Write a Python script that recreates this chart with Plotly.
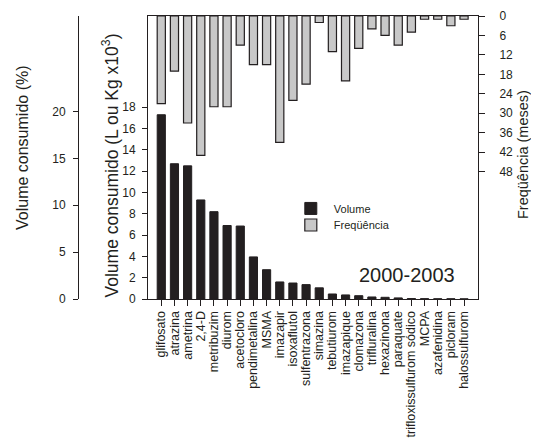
import plotly.graph_objects as go

herbicidas = ["glifosato", "atrazina", "ametrina", "2,4-D", "metribuzim", "diurom",
              "acetocloro", "pendimetalina", "MSMA", "imazapir", "isoxaflutol",
              "sulfentrazona", "simazina", "tebutiurom", "imazapique", "clomazona",
              "trifluralina", "hexazinona", "paraquate", "trifloxissulfurom sódico",
              "MCPA", "azafenidina", "picloram", "halossulfurom"]
volume = [17.3, 12.7, 12.5, 9.3, 8.2, 6.9, 6.85, 3.95, 2.75, 1.6, 1.5, 1.35, 1.05,
          0.47, 0.38, 0.31, 0.19, 0.16, 0.1, 0.04, 0.03, 0.02, 0.02, 0.01]
frequencia = [27, 17, 33, 43, 28, 28, 9, 15, 15, 39, 26, 21, 2, 11, 20, 10, 4, 6, 9,
              5, 1, 1, 3, 1]
ticks_volume = [0, 2, 4, 6, 8, 10, 12, 14, 16, 18]
ticks_freq = [0, 6, 12, 18, 24, 30, 36, 42, 48]
ticks_pct = [0, 5, 10, 15, 20]

INK = "#231f20"
FONT = "Liberation Sans, Arial, sans-serif"

fig = go.Figure()
fig.add_trace(go.Bar(x=herbicidas, y=volume, name="Volume", yaxis="y",
                     width=0.62, legend="legend",
                     marker=dict(color=INK, line=dict(color=INK, width=1))))
fig.add_trace(go.Bar(x=herbicidas, y=frequencia, name="Freqüência", yaxis="y2",
                     width=0.62, legend="legend2",
                     marker=dict(color="#c8c8c8", line=dict(color=INK, width=1.2))))
# carrier trace so the percentage axis is drawn
fig.add_trace(go.Scatter(x=[], y=[], yaxis="y3", showlegend=False, hoverinfo="skip"))

axis_common = dict(showgrid=False, zeroline=False, showline=True, linecolor=INK,
                   linewidth=1, ticks="outside", tickcolor=INK, tickwidth=1,
                   automargin=False,
                   tickfont=dict(size=12, color=INK, family=FONT))

legend_common = dict(xanchor="left", yanchor="middle", itemwidth=36,
                     font=dict(size=11, color=INK, family=FONT),
                     bgcolor="rgba(0,0,0,0)", borderwidth=0)

fig.update_layout(
    width=539, height=448,
    margin=dict(l=52, r=69, t=8, b=157, autoexpand=False),
    paper_bgcolor="white", plot_bgcolor="white",
    font=dict(family=FONT, color=INK),
    barmode="overlay",
    showlegend=True,
    legend=dict(x=0.545, y=0.32, **legend_common),
    legend2=dict(x=0.545, y=0.2615, **legend_common),
    xaxis=dict(domain=[0.2105, 1], type="category", range=[-1.01, 24.06],
               tickmode="array", tickvals=herbicidas, ticktext=herbicidas,
               tickangle=-90, ticklen=6, mirror=True, automargin=False,
               showgrid=False, zeroline=False, showline=True, linecolor=INK,
               ticks="outside", tickcolor=INK,
               tickfont=dict(size=12.5, color=INK, family=FONT)),
    yaxis=dict(range=[0, 26.57], tickvals=ticks_volume, ticklen=5,
               ticklabelstandoff=4, **axis_common),
    yaxis2=dict(range=[87.3, 0], tickvals=ticks_freq, ticklen=6, side="right",
                overlaying="y", anchor="x", ticklabelstandoff=12, **axis_common),
    yaxis3=dict(range=[0, 30.2], tickvals=ticks_pct, ticklen=5, side="left",
                overlaying="y", anchor="free", position=0.0431,
                ticklabelstandoff=5, **axis_common),
    annotations=[
        dict(text="2000-2003", x=0.831, y=0.085, xref="paper", yref="paper",
             xanchor="center", yanchor="middle", showarrow=False,
             font=dict(size=20, color=INK, family=FONT)),
        dict(text="Volume consumido (%)", x=-0.0885, y=0.5336, xref="paper",
             yref="paper", textangle=-90, xanchor="center", yanchor="middle",
             showarrow=False, font=dict(size=16, color=INK, family=FONT)),
        dict(text="Volume consumido (L ou Kg x10<sup>3</sup>)", x=0.1196, y=0.4717,
             xref="paper", yref="paper", textangle=-90, xanchor="center",
             yanchor="middle", showarrow=False,
             font=dict(size=17.5, color=INK, family=FONT)),
        dict(text="Freqüência (meses)", x=1.1077, y=0.5088, xref="paper",
             yref="paper", textangle=-90, xanchor="center", yanchor="middle",
             showarrow=False, font=dict(size=14.5, color=INK, family=FONT)),
    ],
)

fig.write_html("out.html")
